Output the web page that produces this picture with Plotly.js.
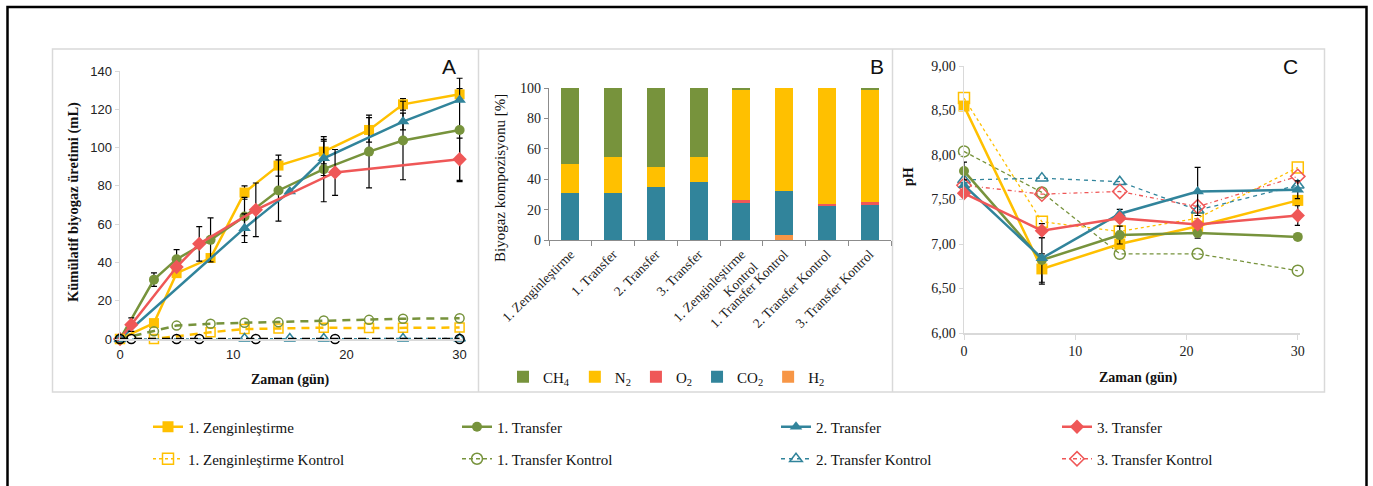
<!DOCTYPE html>
<html>
<head>
<meta charset="utf-8">
<script src="https://cdn.plot.ly/plotly-3.0.1.min.js"></script>
<style>
  html, body { margin: 0; padding: 0; background: #fff; }
  #chart { width: 1373px; height: 486px; }
</style>
</head>
<body>
<div id="chart"></div>
<script>
// ---------- Panel A: cumulative biogas (mL) vs time (day) ----------
const zengDays = [0, 3, 5, 8, 11, 14, 18, 22, 25, 30];
const zengMl   = [0, 8.3, 34.4, 42.3, 76.5, 90.6, 97.9, 109.2, 122.6, 127.8];
const zengErr  = [null, null, null, null, 3.5, 5.5, 6.4, 6.4, 3, 3];

const t1Days = [0, 3, 5, 8, 11, 14, 18, 22, 25, 30];
const t1Ml   = [0, 31, 41.7, 51.8, 64, 77.6, 88.7, 97.9, 103.7, 109.2];
const t1Err  = [null, 3.5, 5, 11.5, 10, 16, 17, 19, 20.5, 27];

const t2Days = [0, 11, 15, 18, 25, 30];
const t2Ml   = [0, 57.9, 77, 94.4, 113.6, 124.9];
const t2Err  = [null, 7.5, null, 9, 4.4, null];

const t3Days = [0, 1, 5, 7, 12, 19, 30];
const t3Ml   = [0, 7.5, 37.6, 49.7, 67.5, 87, 93.9];
const t3Err  = [null, 3.5, null, 9, 14, 12, 11];

const zengKDays = [0, 3, 8, 11, 14, 18, 22, 25, 30];
const zengKMl   = [0, 0, 3.5, 5.2, 5.5, 5.9, 5.7, 5.9, 6];

const t1KDays = [0, 3, 5, 8, 11, 14, 18, 22, 25, 30];
const t1KMl   = [0, 4, 7, 8, 8.5, 8.7, 9.7, 10, 10.6, 10.8];

const t2KDays = [0, 11, 15, 18, 25, 30];
const t2KMl   = [0, 0.3, 0.3, 0.3, 0.3, 0.3];

const t3KDays = [0, 1, 5, 7, 12, 19, 30];
const t3KMl   = [0, 0, 0, 0, 0, 0, 0];

// ---------- Panel B: biogas composition (%) ----------
const gasGroups = ['1. Zenginleştirme', '1. Transfer', '2. Transfer', '3. Transfer',
                   '1. Zenginleştirme<br>Kontrol', '1. Transfer Kontrol',
                   '2. Transfer Kontrol', '3. Transfer Kontrol'];
const ch4 = [50.3, 45.7, 52.1, 45.7, 1.5, 0, 0, 1.5];
const n2  = [19.1, 23.7, 12.7, 16.4, 72.5, 67.6, 76.6, 73.3];
const o2  = [0, 0, 0, 0, 1.9, 0, 0.9, 2];
const co2 = [30.6, 30.6, 35.2, 37.9, 24.1, 29.3, 22.5, 23.2];
const h2  = [0, 0, 0, 0, 0, 3.1, 0, 0];

// ---------- Panel C: pH vs time (day) ----------
const phDays  = [0, 7, 14, 21, 30];
const zengPh  = [8.55, 6.72, 7.00, 7.20, 7.49];
const t1Ph    = [7.82, 6.82, 7.10, 7.125, 7.08];
const t2Ph    = [7.66, 6.84, 7.34, 7.59, 7.61];
const t3Ph    = [7.57, 7.15, 7.29, 7.22, 7.32];
const zengKPh = [8.64, 7.25, 7.14, 7.29, 7.86];
const t1KPh   = [8.04, 7.58, 6.89, 6.89, 6.70];
const t2KPh   = [7.72, 7.74, 7.70, 7.38, 7.66];
const t3KPh   = [7.66, 7.56, 7.59, 7.42, 7.76];
const zengPhErr = [null, 0.17, null, null, null];
const t1PhErr   = [0.1, 0.25, 0.1, 0.06, null];
const t2PhErr   = [null, null, 0.05, 0.27, 0.1];
const t3PhErr   = [null, 0.08, null, null, 0.11];

// ---------- styling ----------
const W = 1373, H = 486;
const px = v => v / W;
const py = v => 1 - v / H;

const YEL = '#FFC000', GRN = '#77933C', TEAL = '#31849B', RED = '#EF5757', ORG = '#F79646';
const SERIF = 'Liberation Serif';
const SANS = 'Liberation Sans';

function errs(arr) {
  return { type: 'data', array: arr, visible: true, color: '#000', thickness: 1.2, width: 3 };
}

function line(x, y, opts) {
  const t = {
    type: 'scatter', mode: 'lines+markers', x: x, y: y,
    name: opts.name, cliponaxis: false,
    xaxis: opts.xa, yaxis: opts.ya,
    line: { color: opts.color, width: opts.width, dash: opts.dash || 'solid' },
    marker: {
      symbol: opts.symbol, size: opts.size, color: opts.fill || opts.color,
      line: { color: opts.color, width: opts.mlw || 0 }
    },
    showlegend: !!opts.legend
  };
  if (opts.legend) t.legend = opts.legend;
  if (opts.err) t.error_y = errs(opts.err);
  return t;
}

const traces = [];

// Panel A — main series
traces.push(line(zengDays, zengMl, { name: '1. Zenginleştirme', xa: 'x', ya: 'y', color: YEL, width: 2.5, symbol: 'square', size: 10, err: zengErr }));
traces.push(line(t1Days, t1Ml, { name: '1. Transfer', xa: 'x', ya: 'y', color: GRN, width: 2.5, symbol: 'circle', size: 10, err: t1Err }));
traces.push(line(t2Days, t2Ml, { name: '2. Transfer', xa: 'x', ya: 'y', color: TEAL, width: 2.5, symbol: 'triangle-up', size: 11, err: t2Err }));
traces.push(line(t3Days, t3Ml, { name: '3. Transfer', xa: 'x', ya: 'y', color: RED, width: 2.5, symbol: 'diamond', size: 11, err: t3Err }));
// Panel A — controls
traces.push(line(zengKDays, zengKMl, { name: '1. Zenginleştirme Kontrol', xa: 'x', ya: 'y', color: YEL, width: 2.5, dash: '8px,6px', symbol: 'square-open', size: 9, mlw: 1.5 }));
traces.push(line(t1KDays, t1KMl, { name: '1. Transfer Kontrol', xa: 'x', ya: 'y', color: GRN, width: 2.5, dash: '8px,6px', symbol: 'circle-open', size: 9, mlw: 1.5 }));
traces.push(line(t2KDays, t2KMl, { name: '2. Transfer Kontrol', xa: 'x', ya: 'y', color: TEAL, width: 1.2, dash: '3px,3px', symbol: 'triangle-up-open', size: 10, mlw: 1.5 }));
traces.push(line(t3KDays, t3KMl, { name: '3. Transfer Kontrol', xa: 'x', ya: 'y', color: '#000', width: 2.5, dash: '8px,6px', symbol: 'circle-open', size: 9, mlw: 1.5 }));

// Panel B — stacked composition bars (bottom to top)
const gases = [
  { name: 'H<sub>2</sub>', v: h2, c: ORG, rank: 5 },
  { name: 'CO<sub>2</sub>', v: co2, c: TEAL, rank: 4 },
  { name: 'O<sub>2</sub>', v: o2, c: RED, rank: 3 },
  { name: 'N<sub>2</sub>', v: n2, c: YEL, rank: 2 },
  { name: 'CH<sub>4</sub>', v: ch4, c: GRN, rank: 1 }
];
gases.forEach(g => traces.push({
  type: 'bar', x: gasGroups, y: g.v, name: g.name, xaxis: 'x2', yaxis: 'y2',
  marker: { color: g.c, line: { width: 0 } }, legend: 'legend9', legendrank: g.rank
}));

// Panel C — controls first, main series on top
traces.push(line(phDays, zengKPh, { name: '1. Zenginleştirme Kontrol', xa: 'x3', ya: 'y3', color: YEL, width: 1.3, dash: 'dot', symbol: 'square-open', size: 11, mlw: 1.5, legend: 'legend5' }));
traces.push(line(phDays, t1KPh, { name: '1. Transfer Kontrol', xa: 'x3', ya: 'y3', color: GRN, width: 1.3, dash: '4px,3px', symbol: 'circle-open', size: 11, mlw: 1.5, legend: 'legend6' }));
traces.push(line(phDays, t2KPh, { name: '2. Transfer Kontrol', xa: 'x3', ya: 'y3', color: TEAL, width: 1.3, dash: '4px,4px', symbol: 'triangle-up-open', size: 11, mlw: 1.5, legend: 'legend7' }));
traces.push(line(phDays, t3KPh, { name: '3. Transfer Kontrol', xa: 'x3', ya: 'y3', color: RED, width: 1.3, dash: '4px,3px,1px,3px', symbol: 'diamond-open', size: 11, mlw: 1.5, legend: 'legend8' }));
traces.push(line(phDays, zengPh, { name: '1. Zenginleştirme', xa: 'x3', ya: 'y3', color: YEL, width: 2.5, symbol: 'square', size: 11, err: zengPhErr, legend: 'legend' }));
traces.push(line(phDays, t1Ph, { name: '1. Transfer', xa: 'x3', ya: 'y3', color: GRN, width: 2.5, symbol: 'circle', size: 10, err: t1PhErr, legend: 'legend2' }));
traces.push(line(phDays, t2Ph, { name: '2. Transfer', xa: 'x3', ya: 'y3', color: TEAL, width: 2.5, symbol: 'triangle-up', size: 11, err: t2PhErr, legend: 'legend3' }));
traces.push(line(phDays, t3Ph, { name: '3. Transfer', xa: 'x3', ya: 'y3', color: RED, width: 2.5, symbol: 'diamond', size: 11, err: t3PhErr, legend: 'legend4' }));

// ---------- layout ----------
const AX_GREY = '#d9d9d9';
const tickFontA = { family: SANS, size: 13, color: '#222' };
const tickFontS = { family: SERIF, size: 14, color: '#222' };

function legendAt(xp, yp) {
  return {
    x: px(xp), y: py(yp), xanchor: 'left', yanchor: 'middle', orientation: 'v',
    bgcolor: 'rgba(0,0,0,0)', borderwidth: 0, itemwidth: 30,
    font: { family: SERIF, size: 15, color: '#111' }
  };
}

function label(text, xp, yp, size, angle, family) {
  return {
    text: text, x: px(xp), y: py(yp), xref: 'paper', yref: 'paper',
    xanchor: 'center', yanchor: 'middle', showarrow: false, textangle: angle || 0,
    font: { family: family || SERIF, size: size, color: '#111' }
  };
}

const layout = {
  width: W, height: H,
  margin: { l: 0, r: 0, t: 0, b: 0 },
  paper_bgcolor: '#fff', plot_bgcolor: 'rgba(0,0,0,0)',
  font: { family: SERIF, size: 13, color: '#111' },
  separators: ',.',
  barmode: 'stack', bargap: 0.575,
  // Panel A axes
  xaxis: {
    domain: [px(120), px(463)], range: [0, 30.3], anchor: 'y',
    tickvals: [0, 10, 20, 30], showgrid: false, zeroline: false,
    showline: true, linecolor: AX_GREY, linewidth: 1.5, ticks: 'outside', ticklen: 3, tickcolor: 'rgba(0,0,0,0)',
    tickfont: tickFontA
  },
  yaxis: {
    domain: [py(339), py(71)], range: [0, 140], anchor: 'x',
    dtick: 20, showgrid: false, zeroline: false,
    showline: true, linecolor: AX_GREY, linewidth: 1.5,
    ticks: 'outside', ticklen: 4, tickcolor: AX_GREY, tickfont: tickFontA
  },
  // Panel B axes
  xaxis2: {
    domain: [px(549), px(891)], anchor: 'y2', type: 'category',
    showgrid: false, zeroline: false, showline: true, linecolor: '#8c8c8c', linewidth: 1.2,
    ticks: 'outside', tickson: 'boundaries', ticklen: 5, tickcolor: '#8c8c8c',
    tickangle: -45, tickfont: { family: SERIF, size: 13.5, color: '#222' }
  },
  yaxis2: {
    domain: [py(240), py(88)], range: [0, 100], anchor: 'x2',
    dtick: 20, showgrid: false, zeroline: false,
    showline: true, linecolor: '#8c8c8c', linewidth: 1.2,
    ticks: 'outside', ticklen: 4, tickcolor: '#8c8c8c', tickfont: tickFontS
  },
  // Panel C axes
  xaxis3: {
    domain: [px(964), px(1300)], range: [0, 30.2], anchor: 'y3',
    tickvals: [0, 10, 20, 30], showgrid: false, zeroline: false,
    showline: true, linecolor: AX_GREY, linewidth: 1.5,
    ticks: 'outside', ticklen: 5, tickcolor: AX_GREY, tickfont: tickFontS
  },
  yaxis3: {
    domain: [py(333), py(66)], range: [6, 9], anchor: 'x3',
    dtick: 0.5, tickformat: '.2f', showgrid: false, zeroline: false,
    showline: true, linecolor: AX_GREY, linewidth: 1.5,
    ticks: 'outside', ticklen: 4, tickcolor: AX_GREY, tickfont: tickFontS
  },
  legend:  legendAt(148, 427),
  legend2: legendAt(457, 427),
  legend3: legendAt(776, 427),
  legend4: legendAt(1057, 427),
  legend5: legendAt(148, 459),
  legend6: legendAt(457, 459),
  legend7: legendAt(776, 459),
  legend8: legendAt(1057, 459),
  legend9: {
    x: px(503), y: py(377), xanchor: 'left', yanchor: 'middle', orientation: 'h',
    traceorder: 'normal', bgcolor: 'rgba(0,0,0,0)', itemwidth: 30,
    font: { family: SERIF, size: 15, color: '#111' }
  },
  annotations: [
    label('A', 449, 67, 21, 0, SANS),
    label('B', 877, 67, 21, 0, SANS),
    label('C', 1290, 67, 21, 0, SANS),
    label('<b>Kümülatif biyogaz üretimi (mL)</b>', 73, 202, 14.5, -90),
    label('<b>Zaman (gün)</b>', 290, 380, 14),
    label('Biyogaz kompozisyonu [%]', 500, 178, 15, -90),
    label('<b>pH</b>', 908, 177, 14, -90),
    label('<b>Zaman (gün)</b>', 1138, 378, 14)
  ],
  shapes: [
    // outer frame
    { type: 'rect', xref: 'paper', yref: 'paper', x0: px(7.5), x1: px(1366.5), y0: -0.05, y1: py(7),
      line: { color: '#000', width: 2.5 }, fillcolor: 'rgba(0,0,0,0)', layer: 'below' },
    // panel box and dividers
    { type: 'rect', xref: 'paper', yref: 'paper', x0: px(52.5), x1: px(1324.5), y0: py(392), y1: py(49),
      line: { color: AX_GREY, width: 1.5 }, fillcolor: 'rgba(0,0,0,0)', layer: 'below' },
    { type: 'line', xref: 'paper', yref: 'paper', x0: px(478.5), x1: px(478.5), y0: py(392), y1: py(49),
      line: { color: AX_GREY, width: 1.5 }, layer: 'below' },
    { type: 'line', xref: 'paper', yref: 'paper', x0: px(892.5), x1: px(892.5), y0: py(392), y1: py(49),
      line: { color: AX_GREY, width: 1.5 }, layer: 'below' }
  ]
};

Plotly.newPlot('chart', traces, layout, { displayModeBar: false, staticPlot: true });
</script>
</body>
</html>
